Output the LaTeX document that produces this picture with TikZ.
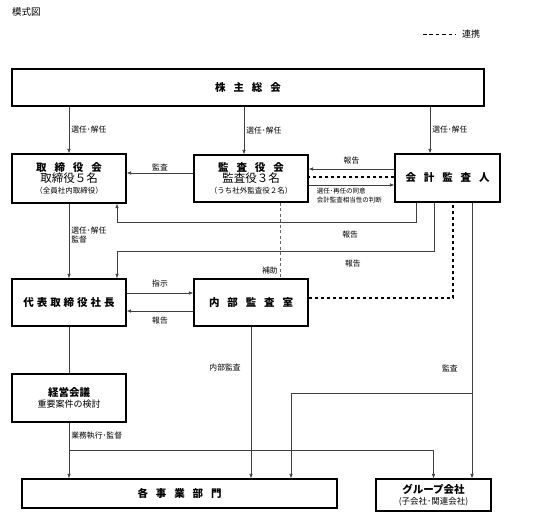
\documentclass[tikz,border=0pt]{standalone}
\usepackage{fontspec}
\setmainfont{Noto Sans CJK JP}
\usetikzlibrary{arrows.meta}

% Tamaños de letra y espacios entre caracteres.
\newcommand\tfont{\bfseries\fontsize{10.5}{12}\selectfont}
\newcommand\nfont{\fontsize{11.5}{12}\selectfont}
\newcommand\sfont{\fontsize{7.5}{9}\selectfont}
\newcommand\gap{\hspace{0.75em}}
\newcommand\poco{\hspace{0.28em}}

\begin{document}
\begin{tikzpicture}[x=1pt,y=-1pt,
    caja/.style={draw, line width=1.1pt, inner sep=0pt, align=center,
      font=\fontsize{10}{11}\selectfont},
    flecha/.style={draw=black!75, line width=0.7pt,
      -{Latex[length=4.5pt,width=3.6pt]}},
    linea/.style={draw=black!75, line width=0.7pt},
    enlace/.style={line width=1.3pt, dash pattern=on 3.5pt off 2.5pt},
    apoyo/.style={draw=black!60, line width=0.7pt, dash pattern=on 3pt off 2.5pt},
    etiq/.style={font=\fontsize{7.8}{9}\selectfont, inner sep=2pt},
    nota/.style={font=\fontsize{6.5}{9}\selectfont, inner sep=0pt, align=left}]

    % Fija el marco de la figura.
    \useasboundingbox (0,0) rectangle (540,520);

    % Título y leyenda.
    \node[anchor=west, inner sep=0pt, font=\fontsize{9.5}{11}\selectfont] (modelo) at (12,12) {模式図};
    \node[anchor=west, inner sep=0pt, font=\fontsize{9}{11}\selectfont] (leyenda) at (462,34) {連携};
    \draw[line width=0.6pt, dash pattern=on 3.6pt off 2.8pt]
      ([xshift=-39pt]leyenda.west) -- ([xshift=-6pt]leyenda.west);

    % Cajas de los órganos.
    \node[caja, minimum width=472pt, minimum height=37pt, font=\tfont] (soukai) at (248,87.5)
      {株\gap 主\gap 総\gap 会};
    \node[caja, minimum width=114pt, minimum height=49pt] (torishimari) at (69,178.5)
      {{\tfont 取\gap 締\gap 役\gap 会}\\{\nfont 取締役５名}\\{\sfont （全員社内取締役）}};
    \node[caja, minimum width=114pt, minimum height=47pt] (kansa) at (251,178.5)
      {{\tfont 監\gap 査\gap 役\gap 会}\\{\nfont 監査役３名}\\{\sfont （うち社外監査役２名）}};
    \node[caja, minimum width=105pt, minimum height=48pt, font=\tfont] (kaikei) at (447.5,178)
      {会\gap 計\gap 監\gap 査\gap 人};
    \node[caja, minimum width=114pt, minimum height=47pt, font=\tfont] (shacho) at (69,302.5)
      {代\poco 表\poco 取\poco 締\poco 役\poco 社\poco 長};
    \node[caja, minimum width=114pt, minimum height=47pt, font=\tfont] (naibu) at (251,302.5)
      {内\gap 部\gap 監\gap 査\gap 室};
    \node[caja, minimum width=114pt, minimum height=48pt] (keiei) at (69,398)
      {{\tfont 経営会議}\\{\fontsize{9}{11}\selectfont 重要案件の検討}};
    \node[caja, minimum width=315pt, minimum height=29pt, font=\tfont] (jigyo) at (179.5,493.5)
      {各\gap 事\gap 業\gap 部\gap 門};
    \node[caja, minimum width=115pt, minimum height=32pt] (group) at (433.5,495)
      {{\tfont グループ会社}\\{\fontsize{8.5}{10}\selectfont (子会社･関連会社)}};

    % Nombramientos desde la junta de accionistas.
    \draw[flecha] (soukai.south -| torishimari.north) -- node[etiq, right]{選任･解任} (torishimari.north);
    \draw[flecha] ([xshift=-7pt]kansa.north |- soukai.south) -- node[etiq, right]{選任･解任} ([xshift=-7pt]kansa.north);
    \draw[flecha] ([xshift=-17.5pt]kaikei.north |- soukai.south) -- node[etiq, right]{選任･解任} ([xshift=-17.5pt]kaikei.north);

    % Auditoría del consejo y relación con el auditor contable.
    \draw[flecha] ([yshift=5.5pt]kansa.west) -- node[etiq, above]{監査} ([yshift=5.5pt]kansa.west -| torishimari.east);
    \draw[flecha] ([yshift=9pt]kaikei.west) -- node[etiq, above=2pt]{報告} ([yshift=9pt]kaikei.west -| kansa.east);
    \draw[enlace] ([yshift=1pt]kaikei.west) -- ([yshift=1pt]kaikei.west -| kansa.east);
    \draw[flecha] ([yshift=-6.5pt]kansa.east) -- node[nota, pos=0, anchor=north west, xshift=8pt, yshift=-3pt]
      {選任･再任の同意\\会計監査相当性の判断} ([yshift=-6.5pt]kansa.east -| kaikei.west);

    % Informes del auditor contable.
    \draw[flecha] ([xshift=-31.5pt]kaikei.south) -- ++(0,20) -| node[etiq, pos=0.11, below=6pt]{報告} ([xshift=48pt]torishimari.south);
    \draw[flecha] ([xshift=-13.5pt]kaikei.south) -- ++(0,49) -| node[etiq, pos=0.128, below=6pt]{報告} ([xshift=48pt]shacho.north);

    % Consejo y presidente.
    \draw[flecha] (torishimari.south) -- node[etiq, right, align=left, pos=0.42]{選任･解任\\監督} (shacho.north);

    % Apoyo de auditoría interna.
    \draw[apoyo] ([xshift=29pt]kansa.south) -- node[etiq, pos=0.9, left]{補助} ([xshift=29pt]naibu.north);
    \draw[flecha] ([yshift=9.5pt]shacho.east) -- node[etiq, above=4pt]{指示} ([yshift=9.5pt]shacho.east -| naibu.west);
    \draw[flecha] ([yshift=-8.5pt]naibu.west) -- node[etiq, below=4pt]{報告} ([yshift=-8.5pt]naibu.west -| shacho.east);
    \draw[enlace] ([yshift=4.5pt]naibu.east) -| ([xshift=5.5pt]kaikei.south);

    % Auditoría hacia las divisiones y el grupo.
    \draw[flecha] ([xshift=24.5pt]kaikei.south) -- coordinate[pos=0.693] (ramaK)
      node[etiq, pos=0.6, left=12pt]{監査} ([xshift=24.5pt]kaikei.south |- group.north);
    \draw[flecha] (ramaK) -| ([xshift=111.5pt]jigyo.north);
    \draw[flecha] (naibu.south) -- node[etiq, pos=0.27, left=8pt]{内部監査} (naibu.south |- jigyo.north);

    % Ejecución del negocio.
    \draw[linea] (shacho.south) -- (keiei.north);
    \draw[flecha] (keiei.south) -- coordinate[pos=0.5] (ramaE)
      node[etiq, pos=0.23, right]{業務執行･監督} (keiei.south |- jigyo.north);
    \draw[flecha] (ramaE) -| (group.north);
\end{tikzpicture}
\end{document}
